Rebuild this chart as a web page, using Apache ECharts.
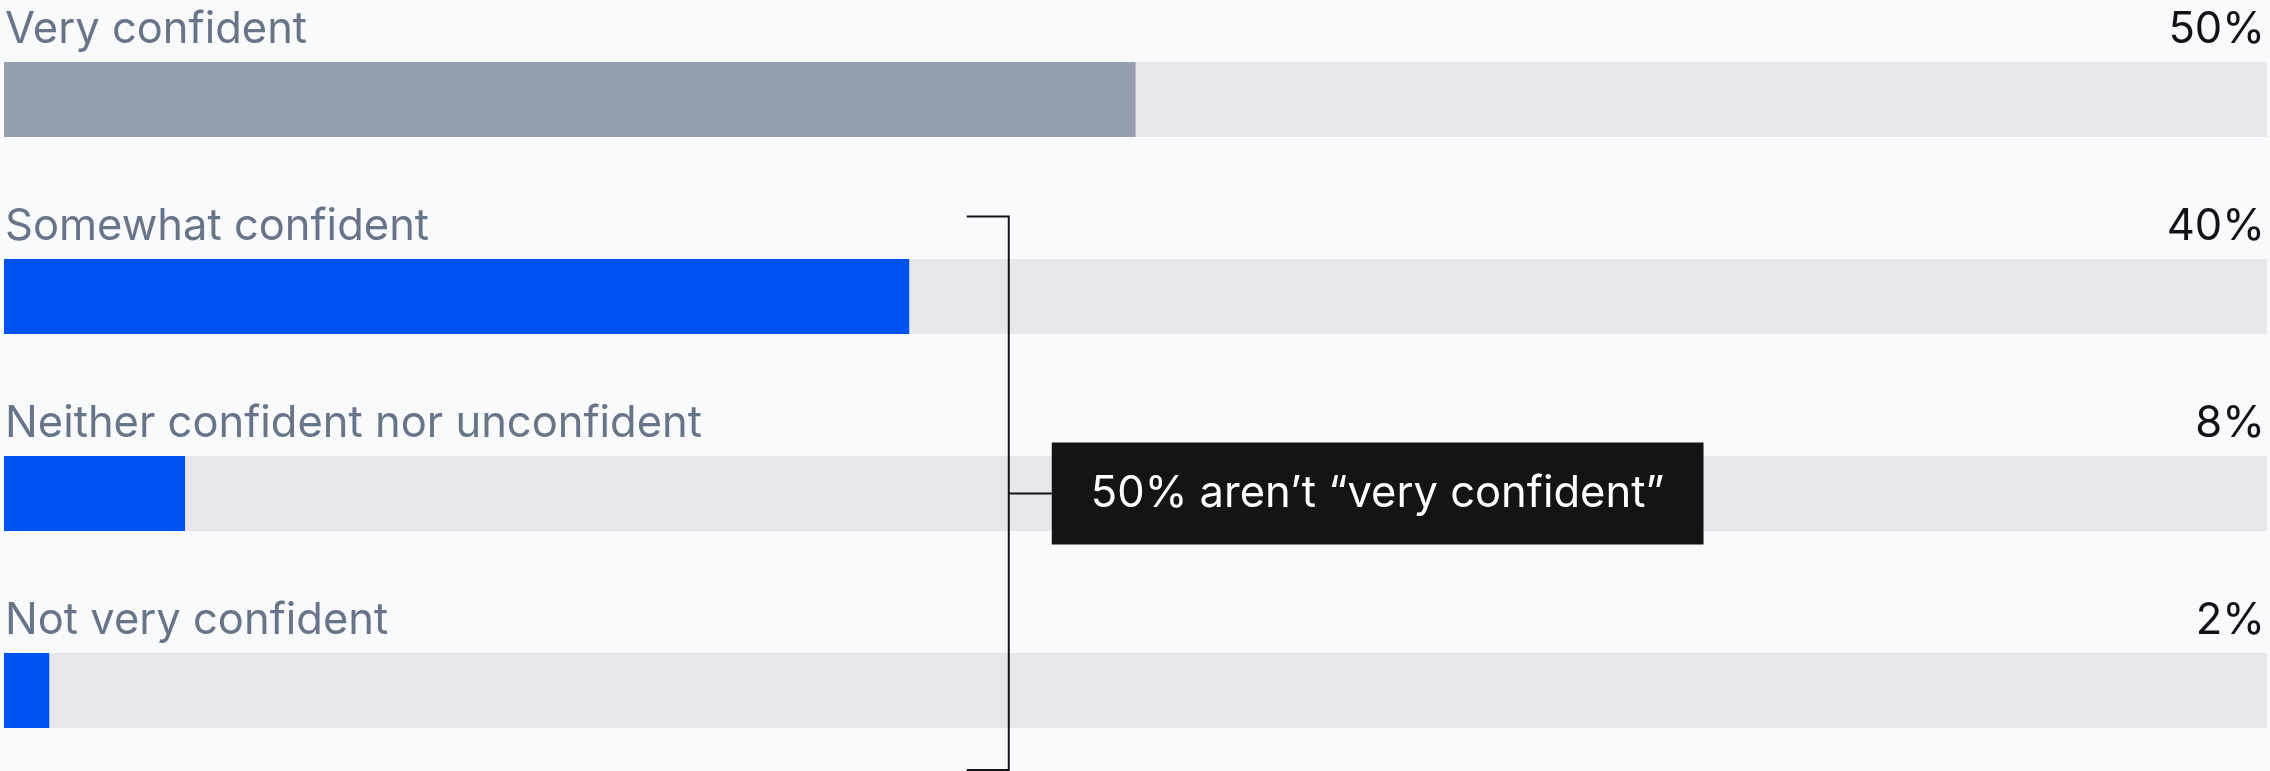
<!DOCTYPE html>
<html style="height: 100%">
<head>
<meta charset="utf-8">
<script src="https://cdn.jsdelivr.net/npm/echarts@6/dist/echarts.min.js"></script>
</head>
<body style="height: 100%; margin: 0; background: #f9fafc">
<div id="container" style="width: 2270px; height: 771px"></div>
<script type="text/javascript">
var categories = ['Very confident', 'Somewhat confident', 'Neither confident nor unconfident', 'Not very confident'];
var values = [50, 40, 8, 2];
var barColors = ['#959fb0', '#0053f1', '#0053f1', '#0053f1'];
var note = '50% aren\u2019t \u201cvery confident\u201d';

var FONT = 'Inter, "Noto Sans", sans-serif';
var dom = document.getElementById('container');
var myChart = echarts.init(dom, null, { renderer: 'canvas' });

var labelBase = {
    inside: true,
    fontFamily: FONT,
    fontSize: 43.5,
    lineHeight: 44,
    verticalAlign: 'bottom',
    padding: [0, 0, 48, 0]
};

var option = {
    backgroundColor: '#f9fafc',
    animation: false,
    grid: { left: 4, right: 3, top: 99.5, bottom: 80.5 },
    xAxis: { type: 'value', min: 0, max: 100, show: false },
    yAxis: [{
        type: 'category', data: categories, inverse: true, boundaryGap: false,
        position: 'left',
        axisLine: { show: false }, axisTick: { show: false },
        axisLabel: Object.assign({}, labelBase, { color: '#687589', margin: 1, align: 'left' })
    }, {
        type: 'category', data: values.map(function (v) { return v + '%'; }), inverse: true, boundaryGap: false,
        position: 'right',
        axisLine: { show: false }, axisTick: { show: false },
        axisLabel: Object.assign({}, labelBase, { color: '#111216', margin: 2, align: 'right' })
    }],
    series: [{
        type: 'bar',
        barWidth: 75,
        showBackground: true,
        backgroundStyle: { color: '#e7e8ed' },
        data: values.map(function (v, i) { return { value: v, itemStyle: { color: barColors[i] } }; })
    }]
};
myChart.setOption(option);

// bracket + note, positioned from the chart's own scales
var yTop = myChart.convertToPixel({ yAxisIndex: 0 }, categories[1]) - 80;
var yMid = myChart.convertToPixel({ yAxisIndex: 0 }, categories[2]);
var xBr = myChart.convertToPixel({ xAxisIndex: 0 }, 44.4);
var boxL = myChart.convertToPixel({ xAxisIndex: 0 }, 46.3);
var boxR = myChart.convertToPixel({ xAxisIndex: 0 }, 75.1);
var yBot = 770;
var lineStyle = { stroke: '#111216', lineWidth: 2 };
myChart.setOption({
    graphic: [
        { type: 'polyline', z: 100, shape: { points: [[xBr - 42, yTop], [xBr, yTop], [xBr, yBot], [xBr - 42, yBot]] }, style: Object.assign({ fill: null }, lineStyle) },
        { type: 'line', z: 100, shape: { x1: xBr, y1: yMid, x2: boxL, y2: yMid }, style: lineStyle },
        { type: 'rect', z: 100, shape: { x: boxL, y: yMid - 51, width: boxR - boxL, height: 102 }, style: { fill: '#131416' } },
        { type: 'text', z: 101, x: (boxL + boxR) / 2, y: yMid, style: { text: note, fill: '#ffffff', font: '43.5px ' + FONT, align: 'center', verticalAlign: 'middle' } }
    ]
});
</script>
</body>
</html>
